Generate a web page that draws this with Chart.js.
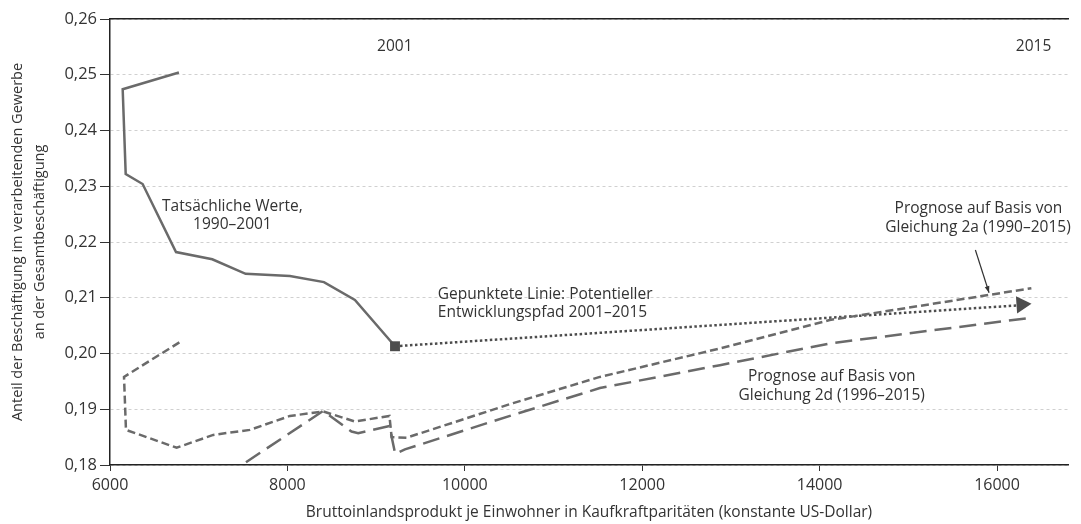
<!DOCTYPE html>
<html lang="de">
<head>
<meta charset="utf-8">
<title>Anteil verarbeitendes Gewerbe</title>
<script src="https://cdn.jsdelivr.net/npm/chart.js@4.4.1/dist/chart.umd.min.js"></script>
<style>
  html, body { margin:0; padding:0; background:#fff; }
  #wrap { width:1081px; height:524px; }
</style>
</head>
<body>
<div id="wrap"><canvas id="chart" width="1081" height="524"></canvas></div>
<script>
// Tatsächliche Werte 1990–2001
const istX = [6777, 6143, 6177, 6368, 6744, 7153, 7529, 8028, 8412, 8761, 9213];
const istY = [0.2504, 0.2474, 0.2322, 0.2304, 0.2182, 0.2169, 0.2143, 0.2139, 0.2128, 0.2096, 0.2013];

// Gepunktete Linie: potentieller Pfad 2001–2015
const potX = [9213, 16300];
const potY = [0.2013, 0.2087];
const pfeilX = [16276];
const pfeilY = [0.2088];

// Prognose Gleichung 2a (1990–2015)
const prog2aX = [6782, 6158, 6180, 6751, 7164, 7577, 8028, 8404, 8761, 9150, 9175, 9344, 10545, 11523, 12876, 14113, 16387];
const prog2aY = [0.2020, 0.1958, 0.1863, 0.1831, 0.1854, 0.1863, 0.1888, 0.1896, 0.1878, 0.1888, 0.1850, 0.1849, 0.1911, 0.1958, 0.2009, 0.2060, 0.2117];

// Prognose Gleichung 2d (1996–2015)
const prog2dX = [7533, 8404, 8723, 8798, 9150, 9215, 9325, 10545, 11523, 12876, 14113, 16330];
const prog2dY = [0.1805, 0.1897, 0.1860, 0.1857, 0.1870, 0.1820, 0.1828, 0.1890, 0.1938, 0.1979, 0.2018, 0.2063];

// Achsen
const xTicks = [6000, 8000, 10000, 12000, 14000, 16000];
const xTickLabels = ['6000', '8000', '10000', '12000', '14000', '16000'];
const yTicks = [0.18, 0.19, 0.20, 0.21, 0.22, 0.23, 0.24, 0.25, 0.26];
const yTickLabels = ['0,18', '0,19', '0,20', '0,21', '0,22', '0,23', '0,24', '0,25', '0,26'];

// Beschriftungen im Diagramm (Datenkoordinaten)
const notes = [
  { text:'2001', x:9211, y:0.2550 },
  { text:'2015', x:16412, y:0.2550 },
  { text:'Tatsächliche Werte,', x:7380, y:0.22633 },
  { text:'1990–2001', x:7380, y:0.22305 },
  { text:'Gepunktete Linie: Potentieller', x:9696, y:0.21049, align:'left' },
  { text:'Entwicklungspfad 2001–2015', x:9696, y:0.20727, align:'left' },
  { text:'Prognose auf Basis von', x:15790, y:0.22592 },
  { text:'Gleichung 2a (1990–2015)', x:15785, y:0.22251 },
  { text:'Prognose auf Basis von', x:14136, y:0.19578 },
  { text:'Gleichung 2d (1996–2015)', x:14136, y:0.19238 }
];
const zeiger = { from:[15756, 0.21857], to:[15910, 0.2109] };

const pts = (xs, ys) => xs.map((x, i) => ({ x, y: ys[i] }));

const grau = '#6a6a6a';
const dunkel = '#4d4d4d';

const notesPlugin = {
  id: 'notes',
  afterDatasetsDraw(chart) {
    const { ctx, scales: { x, y } } = chart;
    ctx.save();
    ctx.font = '15.5px "Open Sans"';
    ctx.fillStyle = '#333';
    ctx.textBaseline = 'middle';
    notes.forEach(n => {
      ctx.textAlign = n.align || 'center';
      ctx.fillText(n.text, x.getPixelForValue(n.x), y.getPixelForValue(n.y));
    });
    // Zeiger auf 2a-Linie
    const x1 = x.getPixelForValue(zeiger.from[0]), y1 = y.getPixelForValue(zeiger.from[1]);
    const x2 = x.getPixelForValue(zeiger.to[0]), y2 = y.getPixelForValue(zeiger.to[1]);
    const a = Math.atan2(y2 - y1, x2 - x1);
    ctx.strokeStyle = '#333';
    ctx.lineWidth = 1.2;
    ctx.beginPath(); ctx.moveTo(x1, y1); ctx.lineTo(x2, y2); ctx.stroke();
    ctx.fillStyle = '#333';
    ctx.beginPath();
    ctx.moveTo(x2, y2);
    ctx.lineTo(x2 - 7 * Math.cos(a - 0.35), y2 - 7 * Math.sin(a - 0.35));
    ctx.lineTo(x2 - 7 * Math.cos(a + 0.35), y2 - 7 * Math.sin(a + 0.35));
    ctx.closePath(); ctx.fill();
    ctx.restore();
  }
};

Chart.defaults.font.family = '"Open Sans", sans-serif';
Chart.defaults.color = '#333';

new Chart(document.getElementById('chart'), {
  type: 'scatter',
  data: {
    datasets: [
      { label:'Prognose 2d', data: pts(prog2dX, prog2dY), showLine:true, borderColor:grau, borderWidth:2.5, borderDash:[17, 8], pointRadius:0 },
      { label:'Prognose 2a', data: pts(prog2aX, prog2aY), showLine:true, borderColor:grau, borderWidth:2.5, borderDash:[8, 4], pointRadius:0 },
      { label:'Potentieller Pfad', data: pts(potX, potY), showLine:true, borderColor:dunkel, borderWidth:2.5, borderDash:[2.5, 2.5], pointRadius:0 },
      { label:'Pfeil', data: pts(pfeilX, pfeilY), showLine:false, pointStyle:'triangle', pointRadius:10, pointRotation:86, backgroundColor:dunkel, borderColor:dunkel, borderWidth:0 },
      { label:'Tatsächliche Werte', data: pts(istX, istY), showLine:true, borderColor:grau, borderWidth:2.5,
        pointStyle:'rect', pointRadius: istX.map((_, i) => i === istX.length - 1 ? 7 : 0),
        backgroundColor:dunkel, pointBorderWidth:0 }
    ]
  },
  options: {
    responsive:false,
    devicePixelRatio:1,
    animation:false,
    layout:{ padding:{ left:0, right:13, top:0, bottom:0 } },
    plugins:{ legend:{ display:false }, tooltip:{ enabled:false } },
    scales:{
      x:{
        type:'linear', min:6000, max:16800,
        afterBuildTicks: s => { s.ticks = xTicks.map(v => ({ value:v })); },
        afterFit: s => { s.height = 59; },
        ticks:{ font:{ size:16 }, padding:5, maxRotation:0, callback:(v, i) => xTickLabels[i] },
        grid:{ drawOnChartArea:false, drawTicks:true, tickLength:6, tickColor:'#333' },
        border:{ color:'#222', width:1.5 },
        title:{ display:true, text:'Bruttoinlandsprodukt je Einwohner in Kaufkraftparitäten (konstante US-Dollar)',
                font:{ size:15.5 }, padding:{ top:0, bottom:2 } }
      },
      x2:{
        type:'linear', position:'top', min:6000, max:16800,
        afterFit: s => { s.height = 19; },
        ticks:{ display:false },
        grid:{ display:false },
        border:{ color:'#222', width:1.5 }
      },
      y:{
        min:0.18, max:0.26,
        afterBuildTicks: s => { s.ticks = yTicks.map(v => ({ value:v })); },
        afterFit: s => { s.width = 110; },
        ticks:{ font:{ size:16.5 }, padding:3, callback:(v, i) => yTickLabels[i] },
        grid:{ color:'#d0d0d0', lineWidth:1, drawTicks:true, tickLength:10, tickColor:'#333' },
        border:{ color:'#222', width:1.5, dash:[3, 3] },
        title:{ display:true, text:['Anteil der Beschäftigung im verarbeitenden Gewerbe', 'an der Gesamtbeschäftigung'],
                font:{ size:14.5, lineHeight:1.52 }, padding:{ top:7, bottom:0 } }
      }
    }
  },
  plugins:[notesPlugin]
});
</script>
</body>
</html>
